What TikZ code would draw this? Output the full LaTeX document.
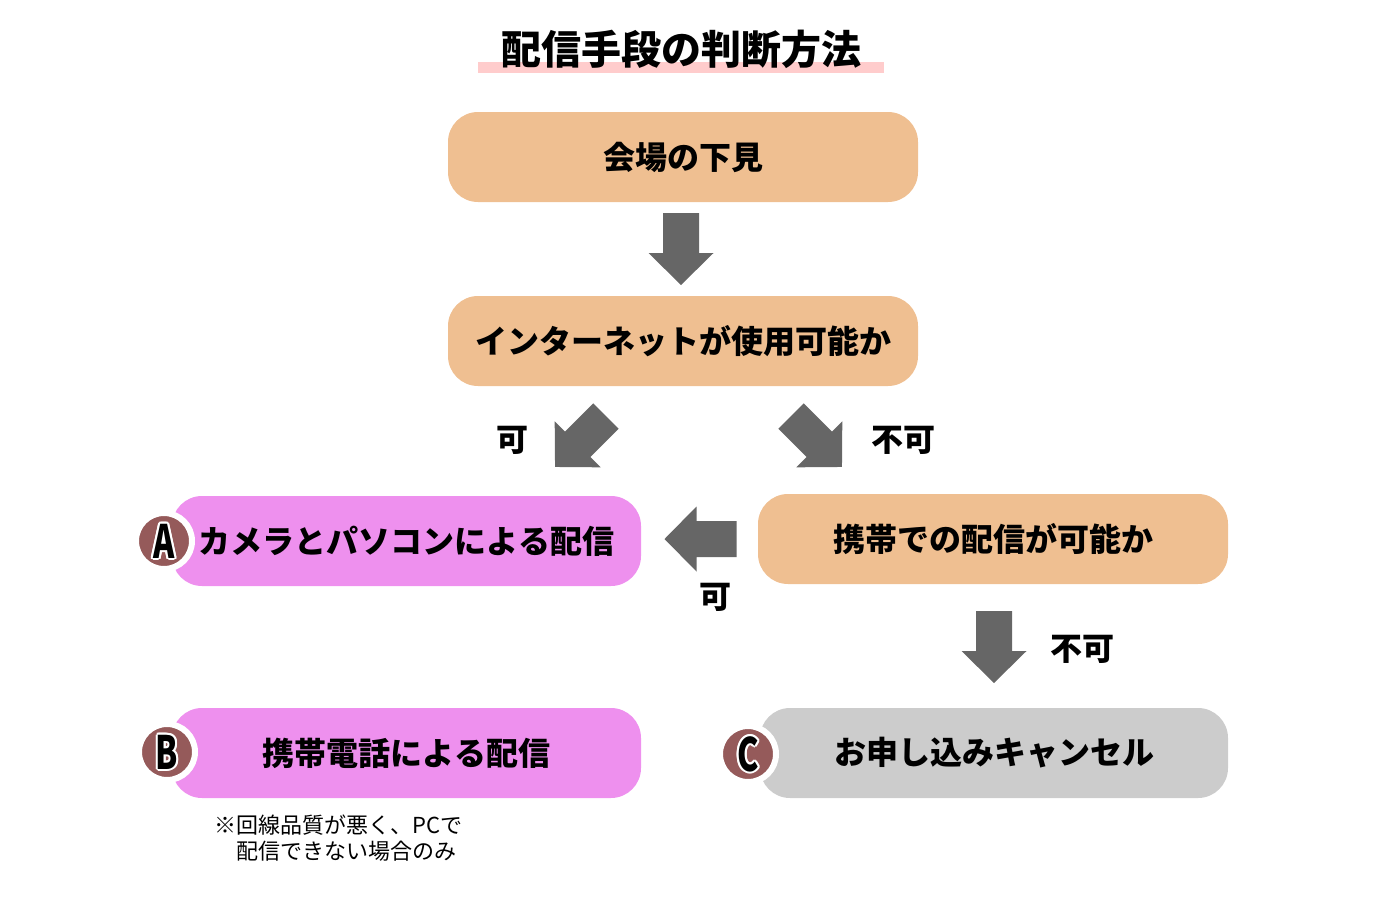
\documentclass[tikz,border=0pt]{standalone}
\usepackage{fontspec}
\setmainfont{Noto Sans CJK JP}
\definecolor{obox}{HTML}{EFBF91}
\definecolor{pbox}{HTML}{EE90EE}
\definecolor{gbox}{HTML}{CCCCCC}
\definecolor{circ}{HTML}{955A5A}
\definecolor{arr}{HTML}{666666}
\definecolor{band}{HTML}{FFCCCC}
\tikzset{
  box/.style={rounded corners=30pt, minimum height=90pt, inner sep=0pt, font=\fontsize{32}{32}\selectfont\bfseries},
  lbl/.style={font=\fontsize{32}{32}\selectfont\bfseries, inner sep=0pt},
  badge/.style={circle, fill=circ, draw=white, line width=6pt, minimum size=56pt, inner sep=0pt},
  blockarrow/.pic={\fill[arr] (-18,-36) -- (18,-36) -- (18,4) -- (32.5,4) -- (0,36) -- (-32.5,4) -- (-18,4) -- cycle;}
}
\newcommand\lettr[1]{\fontsize{46}{46}\selectfont\bfseries\scalebox{0.7}[1]{#1}}
\begin{document}
\begin{tikzpicture}[x=1pt,y=-1pt]
\useasboundingbox (0,0) rectangle (1400,900);
% title
\fill[band] (478,62) rectangle (884,73);
\node[inner sep=0pt] (title) at (681,49) {\fontsize{40}{40}\selectfont\bfseries 配信手段の判断方法};
% boxes
\node[box, fill=obox, minimum width=470pt] (n1) at (683,157) {会場の下見};
\node[box, fill=obox, minimum width=470pt] (n2) at (683,341) {インターネットが使用可能か};
\node[box, fill=pbox, minimum width=469pt] (n3) at (406.5,541) {カメラとパソコンによる配信};
\node[box, fill=obox, minimum width=470pt] (n4) at (993,539) {携帯での配信が可能か};
\node[box, fill=pbox, minimum width=469pt] (n5) at (406.5,753) {携帯電話による配信};
\node[box, fill=gbox, minimum width=468pt] (n6) at (994,753) {お申し込みキャンセル};
% badges
\node[badge] (ba) at (164,541) {};
\node[badge] (bb) at (167,752) {};
\node[badge] (bc) at (748,754) {};
\foreach \b/\t in {ba/A,bb/B,bc/C}{
  \foreach \a in {0,30,...,330}{
    \node[inner sep=0pt, text=white] at ([shift={(\a:2pt)}]\b.center) {\lettr{\t}};
  }
  \node[inner sep=0pt, text=black] (\b-t) at (\b.center) {\lettr{\t}};
}
% block arrows
\pic at (681,249) {blockarrow};
\pic[rotate=-45] at (580.5,441.5) {blockarrow};
\pic[rotate=45] at (816.5,441.5) {blockarrow};
\pic[rotate=-90] at (700.5,539) {blockarrow};
\pic at (994,647) {blockarrow};
% labels
\node[lbl] (l1) at (512,440) {可};
\node[lbl] (l2) at (903,440) {不可};
\node[lbl] (l3) at (715,597) {可};
\node[lbl] (l4) at (1082,649) {不可};
% note
\node[anchor=north west, align=left, inner sep=0pt, font=\fontsize{22}{26}\selectfont] (note) at (214,815) {※回線品質が悪く、PCで\\　配信できない場合のみ};
\end{tikzpicture}
\end{document}
